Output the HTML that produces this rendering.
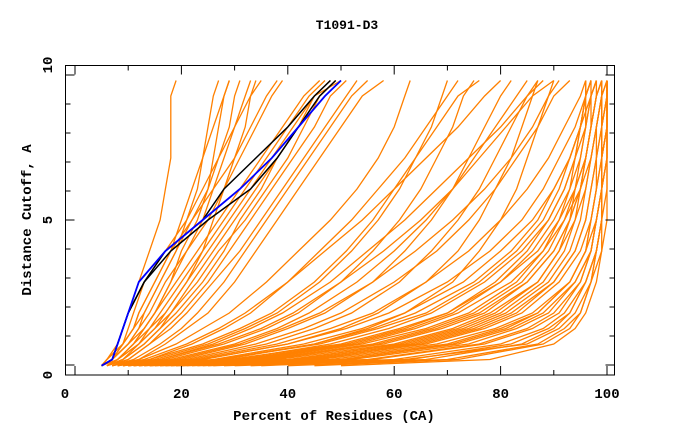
<!DOCTYPE html>
<html><head><meta charset="utf-8"><style>
body{margin:0;background:#fff}
svg text{font-family:"Liberation Mono",monospace;font-weight:bold;fill:#000}
</style></head><body>
<svg id="chart" width="680" height="440" viewBox="0 0 680 440" xmlns="http://www.w3.org/2000/svg">
<rect width="680" height="440" fill="#fff"/>
<text x="347" y="29" text-anchor="middle" font-size="13">T1091-D3</text>
<text x="334" y="420" text-anchor="middle" font-size="14">Percent of Residues (CA)</text>
<text transform="translate(31,220) rotate(-90)" text-anchor="middle" font-size="14">Distance Cutoff, A</text>
<g id="series"></g>
<g id="axes"></g>
</svg>
<script>
const cutoffs=[0.3,0.5,1,1.5,2,3,4,5,6,7,8,9,9.5];
const orangeModels=[
[5,6,9,10,11,13,17,21,24,27,30,33,35],
[5,7,10,12,14,17,21,25,28,31,34,37,39],
[5,6,8,9,10,12,14,16,17,18,18,18,19],
[5,7,9,11,12,15,18,22,26,30,33,36,38],
[6,8,12,14,16,20,24,28,32,36,40,44,47],
[6,9,13,16,18,22,26,30,34,38,42,45,48],
[5,8,11,13,15,19,23,27,31,35,39,43,46],
[6,10,14,17,20,25,29,33,37,41,45,48,51],
[7,11,16,20,23,28,32,36,40,44,48,52,55],
[6,9,13,16,19,24,28,31,35,38,42,46,49],
[5,7,10,12,13,16,19,22,25,27,29,30,31],
[7,12,17,21,25,30,34,38,42,46,50,54,58],
[6,8,11,14,17,21,24,26,28,30,32,33,34],
[5,7,10,13,15,18,20,23,25,26,27,28,29],
[6,8,12,15,18,23,27,32,36,40,43,46,49],
[5,7,9,11,13,16,19,21,23,24,25,26,27],
[6,8,11,13,15,18,21,24,26,28,30,32,33],
[5,6,9,11,12,15,18,20,22,24,26,28,29],
[6,9,12,15,17,21,25,29,33,37,41,45,50],
[7,10,14,18,21,26,31,35,39,43,47,51,53],
[8,14,22,28,33,40,46,52,57,62,66,70,72],
[8,15,25,32,38,46,52,57,61,64,67,69,70],
[9,17,28,36,42,50,56,61,65,68,71,73,75],
[10,20,32,40,47,56,62,67,71,74,77,80,82],
[9,18,30,38,44,53,60,66,71,75,79,83,85],
[10,22,36,45,52,61,67,72,76,79,82,85,87],
[11,24,40,50,57,66,72,76,79,82,84,86,87],
[12,27,45,55,62,71,76,80,83,85,87,89,90],
[8,16,26,33,39,48,55,62,68,74,80,85,88],
[9,19,31,39,46,56,64,71,77,82,86,89,91],
[7,13,21,27,32,40,47,54,60,66,72,77,80],
[7,12,19,24,29,36,42,48,53,57,60,62,63],
[8,14,24,31,37,45,51,56,60,64,68,72,76],
[9,16,27,35,41,50,58,65,71,76,81,86,90],
[10,21,34,43,50,60,68,74,79,83,87,90,93],
[11,23,38,48,56,66,74,80,85,89,92,95,96],
[14,32,52,63,71,80,86,90,93,95,96,97,98],
[15,35,56,67,75,84,89,92,94,96,97,98,99],
[16,38,60,71,78,87,91,94,96,97,98,99,99],
[18,42,64,75,82,90,94,96,97,98,99,99,100],
[20,46,68,79,86,93,96,97,98,99,99,100,100],
[22,50,72,82,88,94,97,98,99,99,100,100,100],
[13,30,48,59,67,77,84,89,92,94,96,97,98],
[12,28,45,56,64,75,82,87,90,93,95,96,97],
[17,40,62,73,80,88,92,94,95,96,97,97,97],
[19,44,66,77,84,91,95,97,98,98,99,99,99],
[25,55,76,85,90,95,97,98,99,99,99,100,100],
[11,26,43,54,62,73,80,86,90,93,95,97,98],
[28,60,80,88,92,96,98,99,99,100,100,100,100],
[14,34,54,66,74,83,88,91,93,94,95,96,96],
[16,36,58,69,77,85,90,93,95,96,97,98,98],
[21,48,70,80,87,93,96,98,99,99,100,100,100],
[13,29,50,61,70,80,87,91,94,96,97,98,99],
[10,24,40,51,59,70,78,84,88,91,94,96,97],
[24,52,74,83,89,94,97,98,99,99,100,100,100],
[15,33,53,64,72,82,88,92,95,97,98,99,99],
[17,37,57,68,76,85,90,93,95,96,97,98,99],
[19,43,63,74,81,89,93,95,96,97,98,99,100],
[23,51,71,81,87,93,96,97,98,99,99,100,100],
[26,56,77,86,91,95,97,98,99,99,100,100,100],
[12,27,46,57,66,76,83,88,91,93,95,96,97],
[14,31,51,62,70,79,85,89,92,94,95,96,97],
[18,41,61,72,79,87,91,93,94,95,96,96,96],
[20,45,65,76,83,90,94,96,97,98,98,99,99],
[30,63,82,89,93,96,98,99,99,100,100,100,100],
[33,66,84,90,93,96,98,99,99,99,99,99,99],
[40,70,87,92,95,97,98,99,99,99,99,99,99],
[50,78,90,94,96,98,99,100,100,100,100,100,100],
[35,62,85,91,94,97,99,99,100,100,100,100,100],
[45,72,88,93,95,97,98,99,99,100,100,100,100]
];
const blueModel=[5,7,8,9,10,12,17,24,31,37,42,47,50];
const blackModels=[[5,7,8,9,10,13,17,24,28,34,40,45,48],[5,7,8,9,10,13,18,25,33,38,42,46,49]];
const xTicks=[0,20,40,60,80,100];
const yTicks=[0,5,10];
const NS="http://www.w3.org/2000/svg";
function xs(v){return 75+v*5.32;}
function ys(v){return 375-v*31;}
const g=document.getElementById('series');
const ax=document.getElementById('axes');
function mk(t,a,p){const e=document.createElementNS(NS,t);for(const k in a)e.setAttribute(k,a[k]);p.appendChild(e);return e;}
function line(vals,color,w,name){
  const pts=vals.map((v,i)=>xs(v).toFixed(1)+','+ys(cutoffs[i]).toFixed(1)).join(' ');
  const e=mk('polyline',{points:pts,fill:'none',stroke:color,'stroke-width':w},g);
  
  
}
orangeModels.forEach((m,i)=>line(m,'#ff8000',1.3,'model-line-'+(i+1)));
blackModels.forEach((m,i)=>line(m,'#000',1.5,'black-line-'+(i+1)));
line(blueModel,'#0000ff',1.8,'blue-line');
const fr=mk('rect',{x:65.5,y:65.5,width:549,height:309.5,fill:'none',stroke:'#000','stroke-width':1},ax);


for(let v=0;v<=100;v+=10){
  const L=(v%20===0)?9:5;const x=xs(v);
  mk('line',{x1:x,y1:375,x2:x,y2:375-L,stroke:'#000'},ax);
  mk('line',{x1:x,y1:65.5,x2:x,y2:65.5+L,stroke:'#000'},ax);
}
for(let k=0;k<=10;k++){
  const L=(k%5===0)?9:5;const y=75+k*29;
  mk('line',{x1:65.5,y1:y,x2:65.5+L,y2:y,stroke:'#000'},ax);
  mk('line',{x1:614.5,y1:y,x2:614.5-L,y2:y,stroke:'#000'},ax);
}
xTicks.forEach(v=>{
  const t=mk('text',{x:v===0?65:xs(v),y:398,'text-anchor':'middle','font-size':'14'},ax);
  t.textContent=v;
  
  
});
yTicks.forEach(v=>{
  const y=375-v*31;
  const t=mk('text',{transform:'translate(52,'+y+') rotate(-90)','text-anchor':'middle','font-size':'14'},ax);
  t.textContent=v;
  
  
});
</script>
</body></html>
